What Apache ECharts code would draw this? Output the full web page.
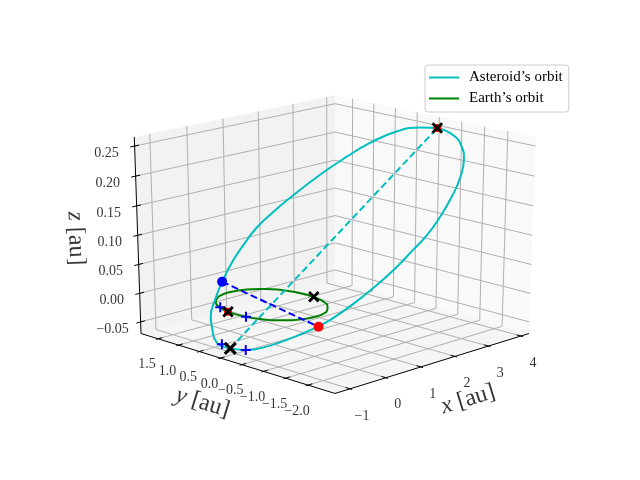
<!DOCTYPE html>
<html>
<head>
<meta charset="utf-8">
<style>html,body{margin:0;background:#fff}#chart{width:640px;height:480px}</style>
<script src="https://cdn.jsdelivr.net/npm/echarts@6/dist/echarts.min.js"></script>
</head>
<body>
<div id="chart"></div>
<script>
var xTicks = [-1, 0, 1, 2, 3, 4];
var yTicks = [1.5, 1, 0.5, 0, -0.5, -1, -1.5, -2];
var zTicks = [-0.05, 0, 0.05, 0.1, 0.15, 0.2, 0.25];
var xTickLabels = ['\u22121', '0', '1', '2', '3', '4'];
var yTickLabels = ['1.5', '1.0', '0.5', '0.0', '\u22120.5', '\u22121.0', '\u22121.5', '\u22122.0'];
var zTickLabels = ['\u22120.05', '0.00', '0.05', '0.10', '0.15', '0.20', '0.25'];

// orbits in au
var earthX = [0.94, 0.91, 0.81, 0.65, 0.44, 0.2, -0.06, -0.32, -0.56, -0.77, -0.93, -1.03, -1.06, -1.03, -0.93, -0.77, -0.56, -0.32, -0.06, 0.2, 0.44, 0.65, 0.81, 0.91, 0.94];
var earthY = [-0.07, 0.19, 0.43, 0.64, 0.8, 0.9, 0.93, 0.9, 0.8, 0.64, 0.43, 0.19, -0.07, -0.33, -0.57, -0.78, -0.94, -1.04, -1.07, -1.04, -0.94, -0.78, -0.57, -0.33, -0.07];
var asteroidX = [4.03, 3.85, 3.57, 3.30, 2.85, 2.44, 1.99, 1.59, 1.25, 0.88, 0.48, 0.05, -0.31, -0.46, -0.71, -0.94, -1.04, -1.02, -0.97, -0.84, -0.65, -0.36, 0.01, 0.43, 0.92, 1.30, 1.68, 2.05, 2.39, 2.94, 3.37, 3.69, 3.95, 4.05, 4.03];
var asteroidY = [-0.62, -1.11, -1.50, -1.75, -2.00, -2.13, -2.22, -2.24, -2.20, -2.13, -2.01, -1.82, -1.60, -1.46, -1.10, -0.68, -0.28, 0.10, 0.39, 0.635, 0.84, 1.13, 1.34, 1.52, 1.67, 1.72, 1.73, 1.645, 1.51, 1.23, 0.95, 0.65, 0.24, -0.22, -0.62];
var asteroidZ = [0.251, 0.249, 0.240, 0.228, 0.206, 0.183, 0.158, 0.134, 0.114, 0.090, 0.064, 0.035, 0.010, -0.001, -0.023, -0.044, -0.057, -0.063, -0.065, -0.061, -0.054, -0.042, -0.023, -0.001, 0.025, 0.047, 0.070, 0.093, 0.116, 0.154, 0.184, 0.209, 0.232, 0.245, 0.251];

// marked positions: [x, y, z] in au
var apsides = [[-1.02, 0.10, -0.063], [4.03, -0.62, 0.251]];
var nodes = [[0.38, 1.48, 0], [-0.50, -1.50, 0]];
var earthApsides = [[-1.04, 0.12, 0], [0.94, -0.23, 0]];
var plusMarks = [[-0.94, 0.39, 0], [-1.03, -0.29, 0], [-0.95, 0.36, -0.063], [-1.04, -0.28, -0.057]];

// pane limits and camera of the 3d box
var xLim = [-1.411, 4.249], yLim = [-2.592, 1.92], zLim = [-0.0705, 0.2648];
var elev = 20 * Math.PI / 180, azim = -135 * Math.PI / 180, dist = 10;
var scaleX = 279, scaleY = 209, cx = 335, cy = 237;

var right = [-Math.sin(azim), Math.cos(azim), 0];
var up = [-Math.sin(elev) * Math.cos(azim), -Math.sin(elev) * Math.sin(azim), Math.cos(elev)];
var eye = [Math.cos(elev) * Math.cos(azim), Math.cos(elev) * Math.sin(azim), Math.sin(elev)];
function dot(a, b) { return a[0] * b[0] + a[1] * b[1] + a[2] * b[2]; }

function project(p) {
	var q = [
		(p[0] - xLim[0]) / (xLim[1] - xLim[0]) - 0.5,
		(p[1] - yLim[0]) / (yLim[1] - yLim[0]) - 0.5,
		(p[2] - zLim[0]) / (zLim[1] - zLim[0]) - 0.5
	];
	var d = 1 - dot(q, eye) / dist;
	return [cx + scaleX * dot(q, right) / d, cy - scaleY * dot(q, up) / d];
}

function path3d(name, pts, color, width, extra) {
	var s = {
		name: name, type: 'line', silent: true, symbol: 'none',
		data: pts.map(project),
		lineStyle: { color: color, width: width }, itemStyle: { color: color }, z: 3
	};
	for (var k in extra) s[k] = extra[k];
	return s;
}

function pane(pts, color) {
	var data = pts.map(project);
	return {
		type: 'custom', silent: true, z: 1, data: [0],
		renderItem: function (params, api) {
			return { type: 'polygon', shape: { points: data.map(function (d) { return api.coord(d); }) }, style: { fill: color } };
		}
	};
}

function textAt(pts, labels, off, fontSize) {
	return {
		type: 'scatter', silent: true, symbolSize: 0, z: 5,
		data: pts.map(function (p, i) { return { value: project(p), name: labels[i] }; }),
		label: {
			show: true, position: 'inside', offset: off, formatter: '{b}',
			fontFamily: 'Liberation Serif', fontSize: fontSize, color: '#000'
		}
	};
}

// the label offset is applied after the rotation
function axisTitle(p, letter, off, rotate) {
	return {
		type: 'scatter', silent: true, symbolSize: 0, z: 5,
		data: [project(p)],
		label: {
			show: true, position: 'inside', offset: off, rotate: rotate,
			formatter: '{i|' + letter + '} [au]',
			fontFamily: 'Liberation Serif', fontSize: 24, color: '#000',
			rich: { i: { fontFamily: 'Liberation Serif', fontSize: 24, fontStyle: 'italic', color: '#000' } }
		}
	};
}

function marks(pts, symbol, size, color, border, z) {
	return {
		type: 'scatter', silent: true, symbol: symbol, symbolSize: size, z: z,
		data: pts.map(project),
		itemStyle: border ? { color: 'rgba(0,0,0,0)', borderColor: color, borderWidth: border, opacity: 1 } : { color: color, opacity: 1 }
	};
}

var crossX = 'path://M0,0L10,10M10,0L0,10';
var crossPlus = 'path://M5,0L5,10M0,5L10,5';

var x0 = xLim[0], x1 = xLim[1], y0 = yLim[0], y1 = yLim[1], z0 = zLim[0], z1 = zLim[1];
var series = [
	pane([[x0, y1, z0], [x1, y1, z0], [x1, y1, z1], [x0, y1, z1]], '#f2f2f2'),
	pane([[x1, y0, z0], [x1, y1, z0], [x1, y1, z1], [x1, y0, z1]], '#f9f9f9'),
	pane([[x0, y0, z0], [x1, y0, z0], [x1, y1, z0], [x0, y1, z0]], '#f5f5f5')
];
var gridColor = '#b0b0b0';
xTicks.forEach(function (t) {
	series.push(path3d('', [[t, y0, z0], [t, y1, z0], [t, y1, z1]], gridColor, 1, { z: 2 }));
});
yTicks.forEach(function (t) {
	series.push(path3d('', [[x0, t, z0], [x1, t, z0], [x1, t, z1]], gridColor, 1, { z: 2 }));
});
zTicks.forEach(function (t) {
	series.push(path3d('', [[x0, y1, t], [x1, y1, t], [x1, y0, t]], gridColor, 1, { z: 2 }));
});
var axisColor = '#000';
series.push(path3d('', [[x0, y0, z0], [x1, y0, z0]], axisColor, 1, { z: 4 }));
series.push(path3d('', [[x0, y0, z0], [x0, y1, z0]], axisColor, 1, { z: 4 }));
series.push(path3d('', [[x0, y1, z0], [x0, y1, z1]], axisColor, 1, { z: 4 }));
var dy = (y1 - y0) / 48, dx = (x1 - x0) / 48;
xTicks.forEach(function (t) {
	series.push(path3d('', [[t, y0 - dy * 0.5, z0], [t, y0 + dy, z0]], axisColor, 1, { z: 4 }));
});
yTicks.forEach(function (t) {
	series.push(path3d('', [[x0 - dx * 0.5, t, z0], [x0 + dx, t, z0]], axisColor, 1, { z: 4 }));
});
zTicks.forEach(function (t) {
	series.push(path3d('', [[x0 - dx, y1, t], [x0 + dx, y1, t]], axisColor, 1, { z: 4 }));
});
series.push(textAt(xTicks.map(function (t) { return [t, y0, z0]; }), xTickLabels, [12, 27], 14));
series.push(textAt(yTicks.map(function (t) { return [x0, t, z0]; }), yTickLabels, [-11, 26], 14));
series.push(textAt(zTicks.map(function (t) { return [x0, y1, t]; }), zTickLabels, [-28, 7], 14));
series.push(axisTitle([2, y0, z0], 'x', [0, 45], 17));
series.push(axisTitle([x0, 0, z0], 'y', [-4, 48], -17));
series.push(axisTitle([x0, y1, 0.1], 'z', [1, 62], -88));

series.push(path3d('Earth\u2019s orbit', earthX.map(function (x, i) { return [x, earthY[i], 0]; }), '#008000', 2, { z: 6, smooth: true }));
series.push(path3d('Asteroid\u2019s orbit', asteroidX.map(function (x, i) { return [x, asteroidY[i], asteroidZ[i]]; }), '#00bfbf', 2, { z: 6, smooth: true }));
series.push(path3d('', apsides, '#00bfbf', 2, { z: 7, lineStyle: { color: '#00bfbf', width: 2, type: [7, 3.5] } }));
series.push(path3d('', nodes, '#0000ff', 2, { z: 7, lineStyle: { color: '#0000ff', width: 2, type: [7, 3.5] } }));
series.push(marks([nodes[0]], 'circle', 10, '#0000ff', 0, 8));
series.push(marks([nodes[1]], 'circle', 10, '#ff0000', 0, 8));
series.push(marks([apsides[1], earthApsides[0]], 'circle', 8, '#ff0000', 0, 8));
series.push(marks(plusMarks, crossPlus, 10, '#0000ff', 2, 9));
series.push(marks([apsides[1]].concat(earthApsides), crossX, 9.5, '#000', 2.8, 10));
series.push(marks([apsides[0]], crossX, 11, '#000', 3.2, 10));

var chart = echarts.init(document.getElementById('chart'), null, { renderer: 'canvas' });
chart.setOption({
	animation: false,
	grid: { left: 0, right: 0, top: 0, bottom: 0 },
	xAxis: { type: 'value', min: 0, max: 640, show: false },
	yAxis: { type: 'value', min: 0, max: 480, inverse: true, show: false },
	legend: {
		left: 425, top: 65, z: 20, orient: 'vertical', padding: [5, 6, 6, 4], icon: 'rect', itemWidth: 30, itemHeight: 2, itemGap: 6,
		borderColor: '#ccc', borderWidth: 1, borderRadius: 3, backgroundColor: 'rgba(255,255,255,0.8)',
		textStyle: { fontFamily: 'Liberation Serif', fontSize: 15, color: '#000', padding: [0, 0, 0, 5] },
		data: ['Asteroid\u2019s orbit', 'Earth\u2019s orbit']
	},
	series: series
});
</script>
</body>
</html>
